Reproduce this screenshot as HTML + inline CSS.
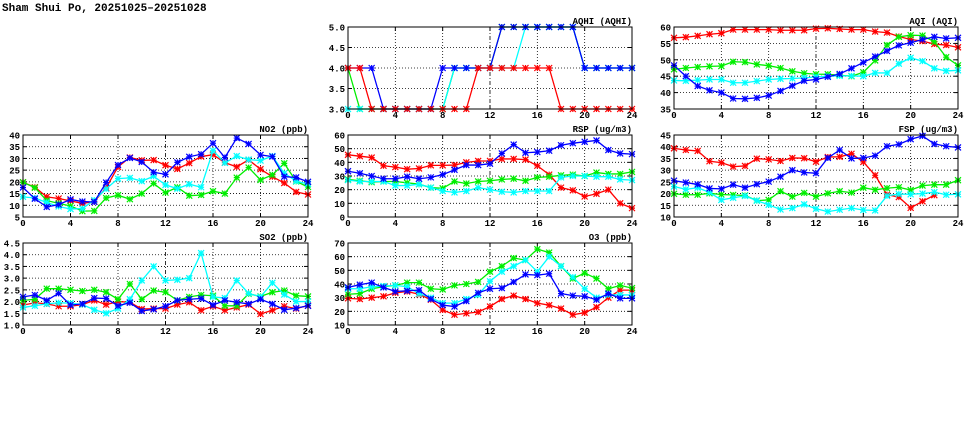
<!DOCTYPE html>
<html><head><meta charset="utf-8">
<style>
html,body{margin:0;padding:0;background:#fff;}
#wrap{position:relative;width:975px;height:447px;overflow:hidden;}
svg text{font-family:"Liberation Mono",monospace;font-weight:bold;}
</style></head>
<body>
<div id="wrap">
<svg id="svg" width="975" height="447" viewBox="0 0 975 447">
<text x="2" y="11" font-size="11">Sham Shui Po, 20251025–20251028</text>
</svg>
</div>
<script>
const hours = [0,1,2,3,4,5,6,7,8,9,10,11,12,13,14,15,16,17,18,19,20,21,22,23,24];
const xTicks = [0,4,8,12,16,20,24];
const seriesColors = ["#ff0000","#00ee00","#00ffff","#0000ff"];
const seriesNames = ["day1","day2","day3","day4"];

const aqhiRed   = [4,4,3,3,3,3,3,3,3,3,3,4,4,4,4,4,4,4,3,3,3,3,3,3,3];
const aqhiGreen = [4,3,3,3,3,3,3,3,3,4,4,4,4,5,5,5,5,5,5,5,4,4,4,4,4];
const aqhiCyan  = [3,3,3,3,3,3,3,3,3,4,4,4,4,4,4,5,5,5,5,5,4,4,4,4,4];
const aqhiBlue  = [4,4,4,3,3,3,3,3,4,4,4,4,4,5,5,5,5,5,5,5,4,4,4,4,4];
const aqhiTicks = [3.0,3.5,4.0,4.5,5.0];

const aqiRed   = [56.7,56.9,57.3,57.8,58.1,59.2,59.2,59.2,59.2,59.0,59.0,59.0,59.5,59.6,59.4,59.2,59.2,58.6,58.3,57.1,56.2,55.7,54.8,54.5,53.8];
const aqiGreen = [47.1,47.5,47.8,48.0,48.1,49.4,49.3,48.6,48.2,47.5,46.5,45.9,45.6,45.6,45.3,45.0,46.2,49.8,54.5,57.0,57.5,57.4,55.5,50.8,48.3];
const aqiCyan  = [43.7,43.6,43.8,44.0,44.0,43.0,43.0,43.5,44.0,44.2,44.3,44.5,44.8,45.0,45.1,45.1,45.0,46.0,46.0,48.8,50.6,49.6,47.4,46.6,46.8];
const aqiBlue  = [48.3,45.0,42.0,40.7,40.0,38.2,38.1,38.4,39.1,40.5,42.1,43.6,44.0,44.8,45.7,47.4,49.2,51.0,52.7,54.4,55.2,56.2,57.0,56.5,56.7];
const aqiTicks = [35,40,45,50,55,60];

const no2Red   = [19.8,17.7,13.6,12.9,11.9,10.8,11.6,17.4,26.4,30.4,29.2,29.3,27.1,25.5,28.0,30.8,31.6,28.2,26.4,29.4,25.4,22.2,19.5,15.7,14.6];
const no2Green = [19.8,17.5,12.0,10.8,9.7,7.5,7.6,13.1,14.3,12.6,15.0,19.3,15.4,17.7,14.1,14.4,16.0,15.0,21.8,26.1,20.8,23.0,27.9,20.2,17.8];
const no2Cyan  = [13.6,13.1,11.2,9.5,8.4,8.6,12.2,17.0,21.4,21.7,20.3,22.4,18.7,17.1,19.0,17.7,33.3,28.1,31.0,29.5,29.1,31.0,23.7,20.3,19.1];
const no2Blue  = [17.6,12.8,9.3,10.3,12.5,11.6,11.4,19.7,27.2,30.2,28.5,24.1,23.2,28.3,30.7,31.8,36.5,30.4,38.7,36.2,31.5,30.8,22.2,21.9,20.0];
const no2Ticks = [5,10,15,20,25,30,35,40];

const rspRed   = [45.5,44.5,43.5,37.5,36.5,35,35.5,37.8,37.8,38,40,41,41,42.5,42.5,42,37.5,31,21.5,19.5,15,17,20,10,6.5];
const rspGreen = [27.5,26.5,25.5,26,26,25,24,21.5,21,26,24.5,26,26.5,27.5,28,26.5,29,29.5,30.5,31,30,32.5,31.5,31.5,33];
const rspCyan  = [27,26,26,26,23,23,24,21.5,19,18,19,21.5,20,18.5,18,19,19,19,29,30,30,29.5,29.5,27.5,27];
const rspBlue  = [33.5,32,30,28,28,29.5,28,29,31,34.5,38,38,39,46.5,53,47,47.5,48.5,52.5,54,55,56,49,46.5,46];
const rspTicks = [0,10,20,30,40,50,60];

const fspRed   = [39.3,38.6,38.2,33.8,33.2,31.5,31.8,34.9,34.6,33.9,35.2,35.1,33.6,35.6,35.7,37.0,33.5,27.8,19.5,18.5,13.9,16.7,19.3,null,null];
const fspGreen = [19.9,19.5,19.5,20.1,19.6,19.4,19.2,17.0,17.3,21.0,18.7,20.3,18.7,20.1,21.0,20.4,22.5,21.6,22.3,22.7,21.5,23.4,23.8,23.8,25.7];
const fspCyan  = [23.0,21.8,22.5,20.5,17.3,18.2,19.0,17.0,15.2,13.2,13.8,15.4,13.5,12.3,13.1,13.8,13.0,12.8,19.0,19.8,19.7,20.0,20.6,19.5,19.7];
const fspBlue  = [25.5,24.7,23.9,22.2,22.0,23.8,22.5,24.0,25.1,27.2,30.0,29.0,28.7,35.2,38.6,35.0,35.2,36.2,40.2,41.0,43.2,44.6,41.2,40.2,39.7];
const fspTicks = [10,15,20,25,30,35,40,45];

const so2Red   = [1.85,1.95,1.9,1.8,1.8,1.87,2.05,1.87,2.0,1.97,1.68,1.7,1.7,1.87,1.97,1.63,1.8,1.63,1.75,1.87,1.47,1.63,1.8,1.7,1.83];
const so2Green = [2.05,2.1,2.55,2.55,2.5,2.45,2.5,2.4,2.1,2.75,2.1,2.47,2.4,2.05,2.2,2.28,2.25,1.82,1.82,2.33,2.22,2.4,2.47,2.25,2.22];
const so2Cyan  = [1.75,1.82,1.9,1.95,1.93,1.87,1.65,1.5,1.7,2.1,2.9,3.5,2.9,2.93,3.0,4.07,2.2,2.15,2.9,2.35,2.2,2.8,2.3,2.0,2.0];
const so2Blue  = [2.2,2.28,2.05,2.35,1.85,1.9,2.15,2.13,1.82,1.95,1.6,1.67,1.8,2.05,2.1,2.13,1.85,2.05,1.97,1.9,2.1,1.9,1.65,1.72,1.82];
const so2Ticks = [1.0,1.5,2.0,2.5,3.0,3.5,4.0,4.5];

const o3Red   = [29.5,29,30,31,33.5,34.5,32.5,28.5,21,17.5,18.5,19.5,23.5,29,31.5,29,26,24.5,22,17.5,19,23,30,35.5,35.5];
const o3Green = [32.5,33,36.5,38,39,41,41,36.5,36,39,40,41.5,49,53,59,57.5,65.5,63,53,44,48,44,36.5,39,37];
const o3Cyan  = [36.5,36.5,38,38.5,39,38,33,30,26,26,29,32,42,49,53,57.5,49,60,53,45,36.5,30,32,32,32];
const o3Blue  = [37.5,39.5,41,37.5,34.5,35,35.5,29,24.5,23.5,27.5,33.5,36.5,37,41.5,47,46.5,47.5,33,31.5,31,28.5,33,29.5,29.5];
const o3Ticks = [10,20,30,40,50,60,70];

const NS = "http://www.w3.org/2000/svg";
const svg = document.getElementById("svg");
function mk(tag, attrs, parent){
  const e = document.createElementNS(NS, tag);
  for (const k in attrs) e.setAttribute(k, attrs[k]);
  (parent||svg).appendChild(e);
  return e;
}

function panel(key, title, x0, y0, w, h, yTicks, yFmt, series, order){
  const g = mk("g", {});
  
  
  const ymin = yTicks[0], ymax = yTicks[yTicks.length-1];
  const sx = v => x0 + (v - 0) / 24 * w;
  const sy = v => y0 + h - (v - ymin) / (ymax - ymin) * h;
  for (const t of yTicks){
    if (t === ymin || t === ymax) continue;
    const l = mk("line", {x1:x0, x2:x0+w, y1:sy(t), y2:sy(t), stroke:"#000", "stroke-width":0.8, "stroke-dasharray":"1,2"}, g);
    
    
  }
  for (const t of xTicks){
    if (t === 0 || t === 24) continue;
    const l = mk("line", {x1:sx(t), x2:sx(t), y1:y0, y2:y0+h, stroke:"#000", "stroke-width":0.8, "stroke-dasharray": t===12 ? "4,2,1,2" : "1,2"}, g);
    
    
  }
  for (const t of yTicks){
    mk("line", {x1:x0, x2:x0+4, y1:sy(t), y2:sy(t), stroke:"#000", "stroke-width":1}, g);
    mk("line", {x1:x0+w-4, x2:x0+w, y1:sy(t), y2:sy(t), stroke:"#000", "stroke-width":1}, g);
    const tx = mk("text", {x:x0-3, y:sy(t)+3.5, "font-size":9, "text-anchor":"end"}, g);
    tx.textContent = yFmt(t);
    
    
  }
  for (const t of xTicks){
    mk("line", {x1:sx(t), x2:sx(t), y1:y0+h-4, y2:y0+h, stroke:"#000", "stroke-width":1}, g);
    mk("line", {x1:sx(t), x2:sx(t), y1:y0, y2:y0+4, stroke:"#000", "stroke-width":1}, g);
    const tx = mk("text", {x:sx(t), y:y0+h+9, "font-size":9, "text-anchor":"middle"}, g);
    tx.textContent = String(t);
    
    
  }
  const tt = mk("text", {x:x0+w, y:y0-3, "font-size":9, "text-anchor":"end"}, g);
  tt.textContent = title;
  
  
  (order || [0,1,2,3]).forEach(si => {
    const vals = series[si];
    const col = seriesColors[si];
    const sg = mk("g", {}, g);
    
    
    let d = "", pen = false;
    vals.forEach((v, i) => {
      if (v === null) { pen = false; return; }
      d += (pen ? "L" : "M") + sx(hours[i]).toFixed(2) + "," + sy(v).toFixed(2);
      pen = true;
    });
    const p = mk("path", {d:d, fill:"none", stroke:col, "stroke-width":1.3}, sg);
    
    
    vals.forEach((v, i) => {
      if (v === null) return;
      const cx = sx(hours[i]), cy = sy(v), r = 3;
      const m = mk("path", {d:`M${cx-r},${cy-r}L${cx+r},${cy+r}M${cx-r},${cy+r}L${cx+r},${cy-r}M${cx-r},${cy}L${cx+r},${cy}M${cx},${cy-r}L${cx},${cy+r}`, stroke:col, "stroke-width":1.2, fill:"none"}, sg);
      
      
    });
  });
  const fr = mk("rect", {x:x0, y:y0, width:w, height:h, fill:"none", stroke:"#000", "stroke-width":1}, g);
  
  
}
const f1 = t => t.toFixed(1), f0 = t => String(t);
panel("aqhi","AQHI (AQHI)",348,27,284,82,aqhiTicks,f1,[aqhiRed,aqhiGreen,aqhiCyan,aqhiBlue],[1,2,3,0]);
panel("aqi","AQI (AQI)",674,27,284,82,aqiTicks,f0,[aqiRed,aqiGreen,aqiCyan,aqiBlue]);
panel("no2","NO2 (ppb)",23,135,285,82,no2Ticks,f0,[no2Red,no2Green,no2Cyan,no2Blue]);
panel("rsp","RSP (ug/m3)",348,135,284,82,rspTicks,f0,[rspRed,rspGreen,rspCyan,rspBlue]);
panel("fsp","FSP (ug/m3)",674,135,284,82,fspTicks,f0,[fspRed,fspGreen,fspCyan,fspBlue]);
panel("so2","SO2 (ppb)",23,243,285,82,so2Ticks,f1,[so2Red,so2Green,so2Cyan,so2Blue]);
panel("o3","O3 (ppb)",348,243,284,82,o3Ticks,f0,[o3Red,o3Green,o3Cyan,o3Blue]);
</script>
</body></html>
